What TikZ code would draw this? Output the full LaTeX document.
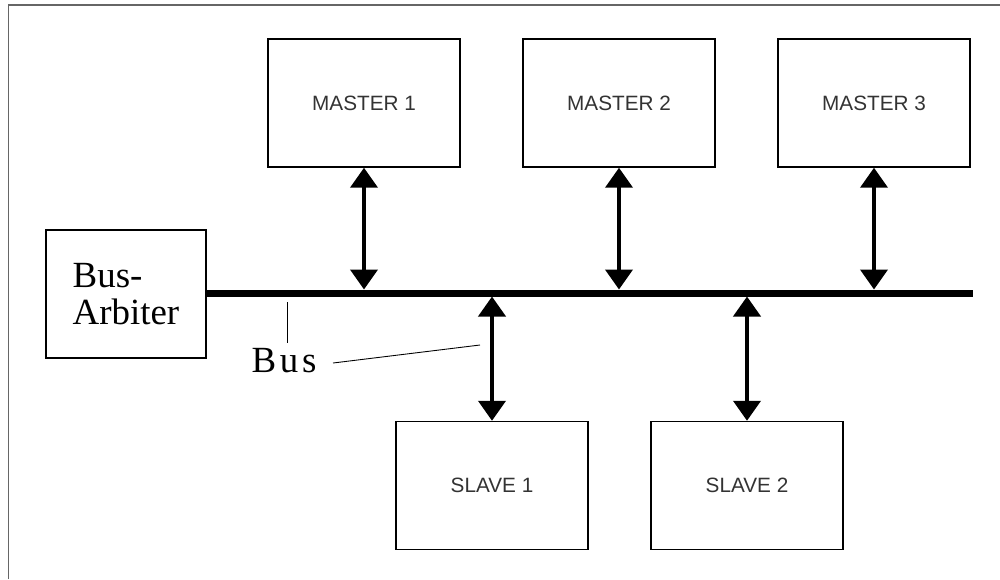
\documentclass[tikz,border=0pt]{standalone}
\usepackage{fontspec}
\setmainfont{Liberation Serif}
\newfontfamily\arialfont{Liberation Sans}
\newfontfamily\spacedserif[LetterSpace=10]{Liberation Serif}
\usetikzlibrary{arrows.meta,positioning}

\tikzset{
  unit/.style={draw, line width=0.85pt, inner sep=0pt, minimum width=3.84cm, minimum height=2.56cm,
    font=\arialfont\fontsize{11.8}{13}\selectfont, text=black!80},
  busline/.style={line width=0.14cm},
  tap/.style={line width=0.08cm, {Triangle[length=0.4cm,width=0.54cm]}-{Triangle[length=0.4cm,width=0.54cm]}},
  pointer/.style={line width=0.5pt}
}

\begin{document}
\begin{tikzpicture}[x=0.02cm,y=-0.02cm]
	\useasboundingbox (0,0) rectangle (1000,579);
	% Frame
	\draw[black!60, line width=0.8pt] (8.5,579) -- (8.5,5) -- (1000,5);
	
	% Bus arbiter
	\node[draw, line width=0.85pt, minimum width=3.2cm, minimum height=2.56cm, align=left,
	      font=\fontsize{21}{21.5}\selectfont] (arbiter) at (126,294) {Bus-\\Arbiter};
	
	% Bus
	\coordinate (busend) at (973,293);
	\draw[busline] (arbiter.east |- busend) -- (busend);
	
	% Masters
	\node[unit] (m1) at (364,103) {MASTER 1};
	\node[unit] (m2) at (619,103) {MASTER 2};
	\node[unit] (m3) at (874,103) {MASTER 3};
	
	% Slaves
	\node[unit] (s1) at (492,485.5) {SLAVE 1};
	\node[unit] (s2) at (747,485.5) {SLAVE 2};
	
	% Taps onto the bus
	\coordinate (bustop) at (0,289.5);
	\coordinate (busbot) at (0,296.5);
	\foreach \m in {m1,m2,m3} {
		\draw[tap] (\m.south) -- (\m.south |- bustop);
	}
	\foreach \s in {s1,s2} {
		\draw[tap] (\s.south |- busbot) -- (\s.north);
	}
	
	% Bus label
	\node[anchor=base, inner sep=0pt, font=\spacedserif\fontsize{21}{21}\selectfont] (buslbl) at (284,372) {Bus};
	\coordinate (tickA) at (287,302);
	\coordinate (tickB) at (287,343);
	\coordinate (slantA) at (333,363);
	\coordinate (slantB) at (480,345);
	\draw[pointer] (tickA) -- (tickB);
	\draw[pointer] (slantA) -- (slantB);
\end{tikzpicture}
\end{document}
